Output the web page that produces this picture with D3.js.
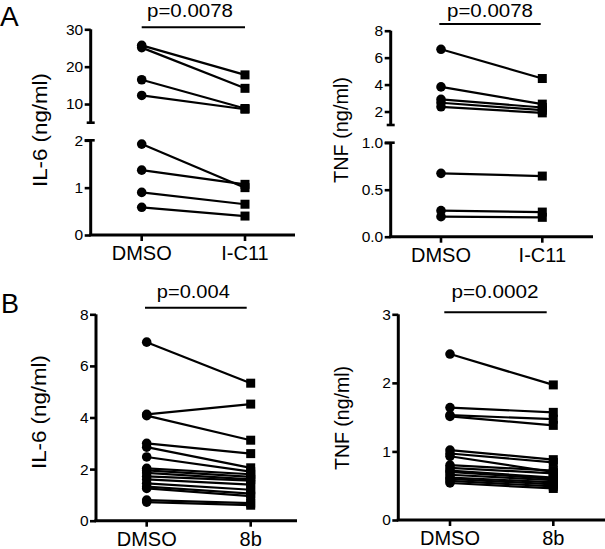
<!DOCTYPE html>
<html><head><meta charset="utf-8">
<script src="https://cdn.jsdelivr.net/npm/d3@7"></script>
<style>
html,body{margin:0;padding:0;background:#fff;}
svg{display:block;font-family:"Liberation Sans",Arial,Helvetica,sans-serif;}
</style></head>
<body>
<svg id="chart" width="605" height="549"></svg>
<script>
// ---------- data ----------
const categoriesA = ["DMSO", "I-C11"];
const categoriesB = ["DMSO", "8b"];

const il6A_dmso = [25.7, 25.1, 16.5, 12.3, 1.92, 1.37, 0.90, 0.585];
const il6A_ic11 = [17.8, 14.2, 8.8, 8.6, 1.00, 1.07, 0.65, 0.40];

const tnfA_dmso = [6.62, 3.83, 2.90, 2.65, 2.35, 0.674, 0.277, 0.213];
const tnfA_ic11 = [4.45, 2.55, 2.30, 2.10, 1.90, 0.645, 0.262, 0.206];

const il6B_dmso = [6.92, 4.12, 4.07, 3.00, 2.85, 2.47, 2.03, 1.95, 1.85, 1.72, 1.60, 1.45, 1.32, 1.25, 0.80, 0.72];
const il6B_8b   = [5.33, 4.52, 3.12, 2.60, 2.05, 1.90, 1.80, 1.70, 1.60, 1.55, 1.40, 1.20, 1.05, 0.95, 0.68, 0.60];

const tnfB_dmso = [2.42, 1.64, 1.53, 1.51, 1.02, 0.97, 0.93, 0.80, 0.76, 0.72, 0.70, 0.66, 0.62, 0.60, 0.57, 0.54];
const tnfB_8b   = [1.97, 1.57, 1.47, 1.38, 0.88, 0.84, 0.70, 0.72, 0.68, 0.62, 0.60, 0.58, 0.55, 0.52, 0.49, 0.46];

const il6A_ticksUpper = [10, 20, 30];
const il6A_ticksLower = [0, 1, 2];
const tnfA_ticksUpper = [2, 4, 6, 8];
const tnfA_ticksLower = [0, 0.5, 1.0];
const il6B_ticks = [0, 2, 4, 6, 8];
const tnfB_ticks = [0, 1, 2, 3];

const pLabels = ["p=0.0078", "p=0.0078", "p=0.004", "p=0.0002"];
const yTitles = ["IL-6 (ng/ml)", "TNF (ng/ml)", "IL-6 (ng/ml)", "TNF (ng/ml)"];
const panelLetters = ["A", "B"];

// ---------- layout ----------
const svg = d3.select("#chart");

const panels = [
  { cats: categoriesA, a: il6A_dmso, b: il6A_ic11, axisX: 90.7, xAxisY: 235, xEnd: 295, catRange: [141.7, 245],
    threshold: 5,
    segs: [ { domain: [5, 30], range: [122.7, 29.3], ticks: il6A_ticksUpper, fmt: d3.format("d"), capBottom: true },
            { domain: [0, 2], range: [235, 140.3], ticks: il6A_ticksLower, fmt: d3.format("d"), capTop: true } ],
    pY: 27.3, pX: [141.7, 245], pTextX: 190, pTextY: 17, pLen: 86, p: pLabels[0],
    title: yTitles[0], titleX: 47, titleY: 130, titleLen: 114 },
  { cats: categoriesA, a: tnfA_dmso, b: tnfA_ic11, axisX: 390.7, xAxisY: 236.7, xEnd: 593, catRange: [441, 542.3],
    threshold: 1.5,
    segs: [ { domain: [1, 8], range: [125, 30.7], ticks: tnfA_ticksUpper, fmt: d3.format("d"), capBottom: true },
            { domain: [0, 1], range: [236.7, 142.7], ticks: tnfA_ticksLower, fmt: d3.format(".1f"), capTop: true } ],
    pY: 24, pX: [439.3, 540.7], pTextX: 490, pTextY: 16.5, pLen: 86, p: pLabels[1],
    title: yTitles[1], titleX: 348, titleY: 130, titleLen: 106 },
  { cats: categoriesB, a: il6B_dmso, b: il6B_8b, axisX: 96, xAxisY: 520.7, xEnd: 297, catRange: [146.7, 250.7],
    threshold: Infinity,
    segs: [ { domain: [0, 8], range: [520.7, 314.3], ticks: il6B_ticks, fmt: d3.format("d") } ],
    pY: 307.7, pX: [145, 246.7], pTextX: 193.3, pTextY: 297.5, pLen: 73, p: pLabels[2],
    title: yTitles[2], titleX: 46, titleY: 412, titleLen: 114 },
  { cats: categoriesB, a: tnfB_dmso, b: tnfB_8b, axisX: 398.3, xAxisY: 520, xEnd: 605, catRange: [450, 553.3],
    threshold: Infinity,
    segs: [ { domain: [0, 3], range: [520, 314.3], ticks: tnfB_ticks, fmt: d3.format("d") } ],
    pY: 312.3, pX: [444.3, 546.7], pTextX: 495, pTextY: 298, pLen: 87, p: pLabels[3],
    title: yTitles[3], titleX: 349, titleY: 418, titleLen: 104 }
];

panels.forEach(P => {
  const g = svg.append("g");
  const x = d3.scalePoint().domain(P.cats).range(P.catRange).padding(0);
  const scales = P.segs.map(s => d3.scaleLinear().domain(s.domain).range(s.range));
  const y = v => (P.segs.length > 1 ? (v >= P.threshold ? scales[0](v) : scales[1](v)) : scales[0](v));

  // y axis segments
  P.segs.forEach((s, i) => {
    const sc = scales[i];
    const ax = d3.axisLeft(sc).tickValues(s.ticks).tickFormat(s.fmt).tickSize(6).tickPadding(1.5).tickSizeOuter(0);
    const ga = g.append("g").attr("transform", `translate(${P.axisX},0)`).call(ax);
    ga.select(".domain").attr("stroke", "#000").attr("stroke-width", 3)
      .attr("d", `M0,${s.range[0]}V${s.range[1]}`);
    ga.selectAll(".tick line").attr("stroke", "#000").attr("stroke-width", 2.6);
    ga.selectAll(".tick text").attr("font-size", 15.5).attr("fill", "#000")
      .attr("font-family", "Liberation Sans, Arial, sans-serif");
    if (s.capBottom) {
      g.append("line").attr("x1", P.axisX - 4).attr("x2", P.axisX + 4)
        .attr("y1", s.range[0]).attr("y2", s.range[0]).attr("stroke", "#000").attr("stroke-width", 2.6);
    }
    if (s.capTop) {
      g.append("line").attr("x1", P.axisX - 6).attr("x2", P.axisX + 4)
        .attr("y1", s.range[1]).attr("y2", s.range[1]).attr("stroke", "#000").attr("stroke-width", 2.6);
    }
  });

  // x axis
  g.append("line").attr("x1", P.axisX - 1.5).attr("x2", P.xEnd)
    .attr("y1", P.xAxisY).attr("y2", P.xAxisY).attr("stroke", "#000").attr("stroke-width", 3);
  P.cats.forEach(c => {
    g.append("line").attr("x1", x(c)).attr("x2", x(c))
      .attr("y1", P.xAxisY).attr("y2", P.xAxisY + 6).attr("stroke", "#000").attr("stroke-width", 2.6);
    g.append("text").attr("x", x(c)).attr("y", P.xAxisY + 25).attr("text-anchor", "middle")
      .attr("font-size", 20).attr("fill", "#000").text(c);
  });

  // pair lines
  const pairs = P.a.map((v, i) => [v, P.b[i]]);
  g.selectAll("line.pair").data(pairs).join("line").attr("class", "pair")
    .attr("x1", x(P.cats[0])).attr("x2", x(P.cats[1]))
    .attr("y1", d => y(d[0])).attr("y2", d => y(d[1]))
    .attr("stroke", "#000").attr("stroke-width", 2.2);

  // circles
  g.selectAll("circle.pt").data(P.a).join("circle").attr("class", "pt")
    .attr("cx", x(P.cats[0])).attr("cy", d => y(d)).attr("r", 4.8).attr("fill", "#000");
  // squares
  const sq = 9;
  g.selectAll("rect.pt").data(P.b).join("rect").attr("class", "pt")
    .attr("x", x(P.cats[1]) - sq / 2).attr("y", d => y(d) - sq / 2)
    .attr("width", sq).attr("height", sq).attr("fill", "#000");

  // p-value bracket
  g.append("line").attr("x1", P.pX[0]).attr("x2", P.pX[1]).attr("y1", P.pY).attr("y2", P.pY)
    .attr("stroke", "#000").attr("stroke-width", 2);
  g.append("text").attr("x", P.pTextX).attr("y", P.pTextY).attr("text-anchor", "middle")
    .attr("font-size", 19).attr("fill", "#000")
    .attr("textLength", P.pLen).attr("lengthAdjust", "spacingAndGlyphs").text(P.p);

  // y title
  g.append("text").attr("transform", `translate(${P.titleX},${P.titleY}) rotate(-90)`)
    .attr("text-anchor", "middle").attr("font-size", 20).attr("fill", "#000")
    .attr("textLength", P.titleLen).attr("lengthAdjust", "spacingAndGlyphs")
    .text(P.title);
});

// panel letters
svg.append("text").attr("x", 0).attr("y", 26).attr("font-size", 28).attr("fill", "#000").text(panelLetters[0]);
svg.append("text").attr("x", 1).attr("y", 313).attr("font-size", 27).attr("fill", "#000").text(panelLetters[1]);
</script>
</body></html>
